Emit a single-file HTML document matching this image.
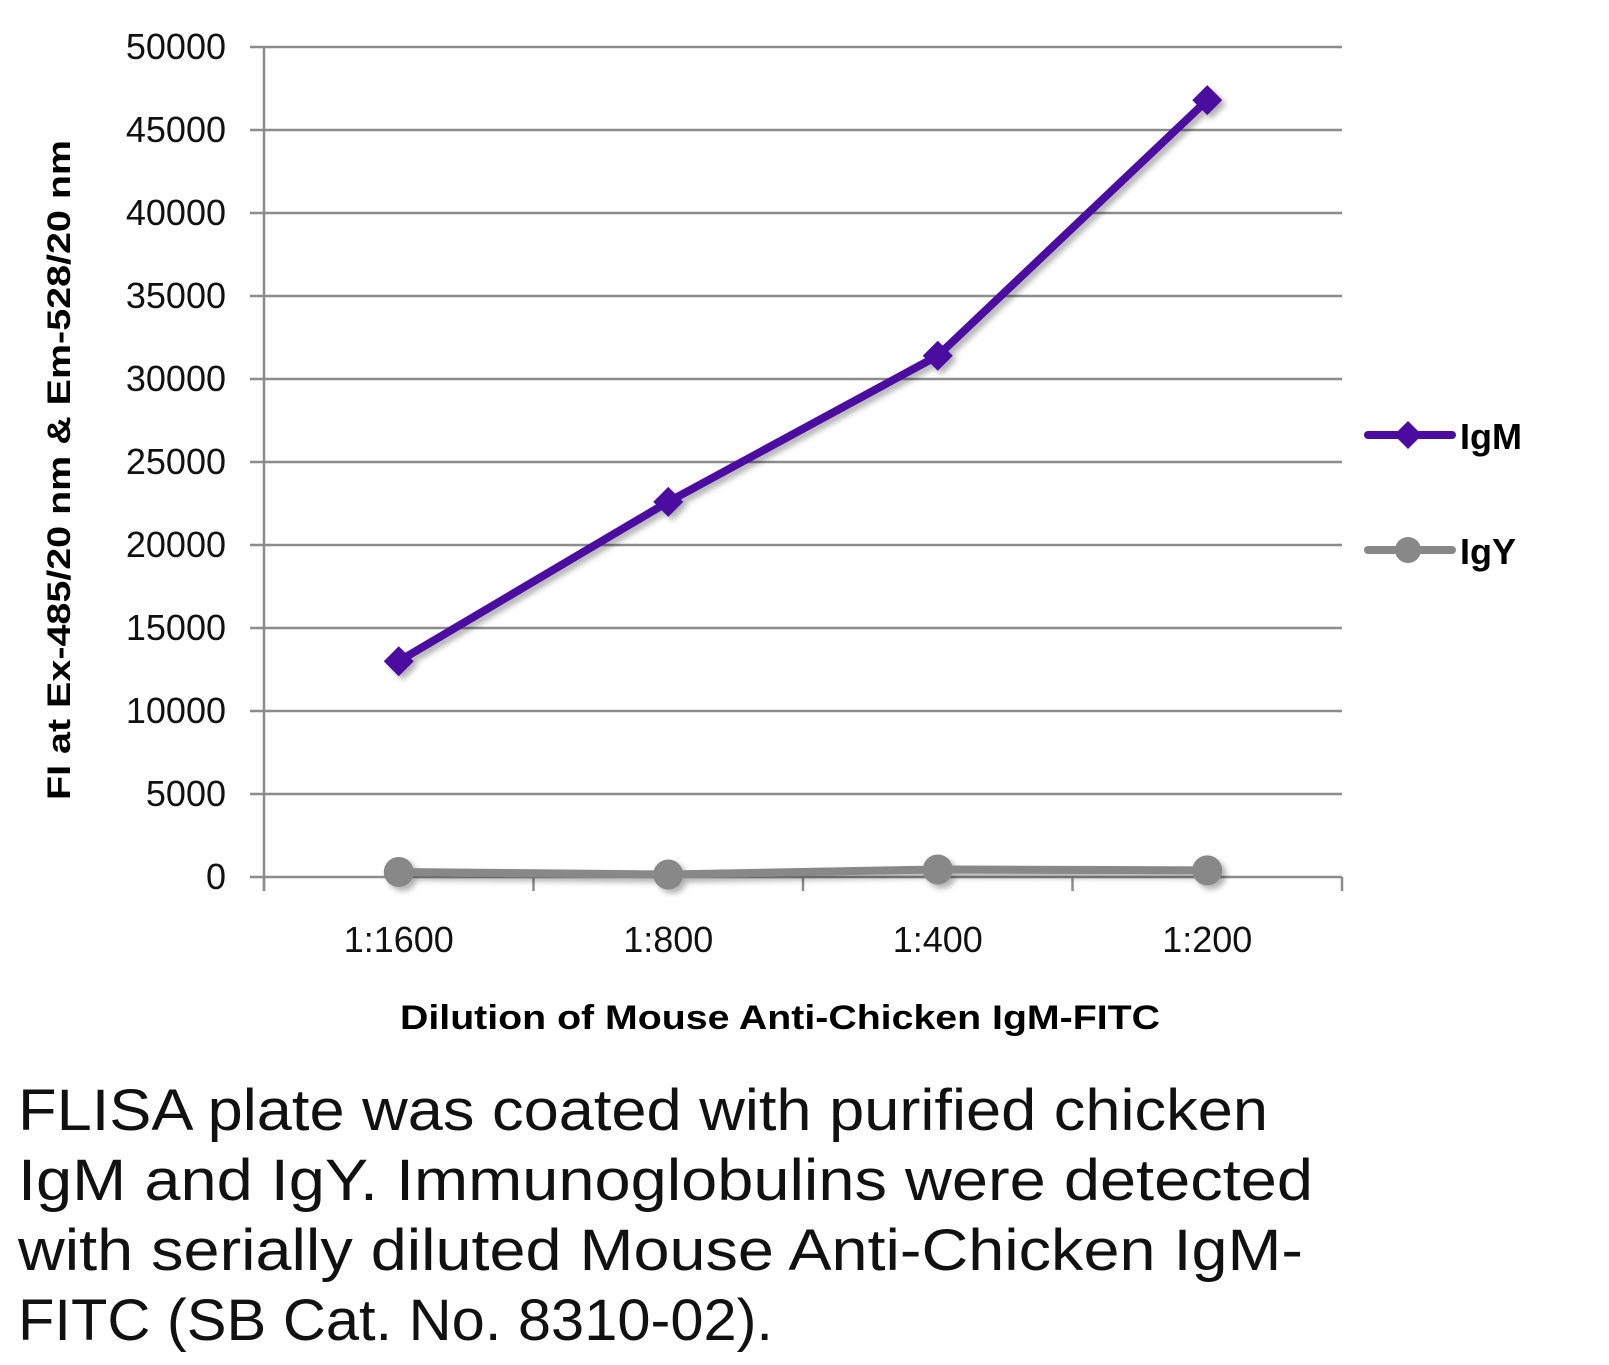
<!DOCTYPE html>
<html><head><meta charset="utf-8"><style>body{margin:0;background:#fff}svg{display:block}</style></head><body>
<svg id="chart" width="1609" height="1365" xmlns="http://www.w3.org/2000/svg" font-family="'Liberation Sans', sans-serif">
<defs><filter id="sh" x="-20%" y="-20%" width="140%" height="140%"><feDropShadow dx="4" dy="4" stdDeviation="3" flood-color="#000" flood-opacity="0.3"/></filter></defs>
<g id="grid"></g>
<g id="axes"></g>
<g id="series"></g>
<text transform="translate(70,470) rotate(-90)" text-anchor="middle" font-weight="bold" font-size="32" textLength="660" lengthAdjust="spacingAndGlyphs">FI at Ex-485/20 nm &amp; Em-528/20 nm</text>
<text x="400" y="1029" font-weight="bold" font-size="34" textLength="760" lengthAdjust="spacingAndGlyphs">Dilution of Mouse Anti-Chicken IgM-FITC</text>
<g>
<g>
<line x1="1368" y1="435" x2="1452" y2="435" stroke="#4b0aa0" stroke-width="8" stroke-linecap="round"/>
<polygon points="1408,421 1422,435 1408,449 1394,435" fill="#4b0aa0"/>
<text x="1460" y="449" font-weight="bold" font-size="36">IgM</text></g>
<g>
<line x1="1368" y1="550" x2="1452" y2="550" stroke="#888" stroke-width="8" stroke-linecap="round"/>
<circle cx="1408" cy="550" r="13" fill="#888"/>
<text x="1460" y="564" font-weight="bold" font-size="36">IgY</text></g>
</g>
<g font-size="58" fill="#111">
<text x="18" y="1130" textLength="1250" lengthAdjust="spacingAndGlyphs">FLISA plate was coated with purified chicken</text>
<text x="18" y="1200" textLength="1295" lengthAdjust="spacingAndGlyphs">IgM and IgY.  Immunoglobulins were detected</text>
<text x="18" y="1270" textLength="1285" lengthAdjust="spacingAndGlyphs">with serially diluted Mouse Anti-Chicken IgM-</text>
<text x="18" y="1340" textLength="755" lengthAdjust="spacingAndGlyphs">FITC (SB Cat. No. 8310-02).</text>
</g>
</svg>
<script>
const categories = ["1:1600","1:800","1:400","1:200"];
const igmValues = [13000, 22600, 31400, 46800];
const igyValues = [300, 150, 450, 400];
const yTicks = [0,5000,10000,15000,20000,25000,30000,35000,40000,45000,50000];
const NS="http://www.w3.org/2000/svg";
const L=264,R=1342,T=47,B=877,YMAX=50000;
const y=v=>B-(v/YMAX)*(B-T);
const bw=(R-L)/categories.length;
const x=i=>L+bw*(i+0.5);
function mk(tag,attrs,parent){const e=document.createElementNS(NS,tag);for(const k in attrs)e.setAttribute(k,attrs[k]);parent.appendChild(e);return e;}
const grid=document.getElementById('grid'),axes=document.getElementById('axes'),ser=document.getElementById('series');
yTicks.forEach(t=>{
 if(t>0){const g=mk('line',{x1:L,x2:R,y1:y(t),y2:y(t),stroke:'#8c8c8c','stroke-width':2.5},grid);
 
 }
 const tk=mk('line',{x1:L-14,x2:L,y1:y(t),y2:y(t),stroke:'#8c8c8c','stroke-width':2.5},axes);
 
 
 const lb=mk('text',{x:L-38,y:y(t)+12,'text-anchor':'end','font-size':36,fill:'#111'},axes);lb.textContent=t;
 
 
});
const ya=mk('line',{x1:L,x2:L,y1:T,y2:B+14,stroke:'#8c8c8c','stroke-width':2.5},axes);


const xa=mk('line',{x1:L,x2:R,y1:B,y2:B,stroke:'#8c8c8c','stroke-width':2.5},axes);


for(let i=0;i<=categories.length;i++){const t=mk('line',{x1:L+bw*i,x2:L+bw*i,y1:B,y2:B+14,stroke:'#8c8c8c','stroke-width':2.5},axes);
 
 }
categories.forEach((c,i)=>{const t=mk('text',{x:x(i),y:952,'text-anchor':'middle','font-size':36,fill:'#111'},axes);t.textContent=c;
 
 });
function series(vals,color,name,marker){
 const g=mk('g',{filter:'url(#sh)'},ser);
 
 
 const pl=mk('polyline',{points:vals.map((v,i)=>x(i)+','+y(v)).join(' '),fill:'none',stroke:color,'stroke-width':8,'stroke-linejoin':'round'},g);
 
 
 vals.forEach((v,i)=>{let m;
  if(marker==='diamond'){const cx=x(i),cy=y(v);m=mk('polygon',{points:`${cx},${cy-15} ${cx+15},${cy} ${cx},${cy+15} ${cx-15},${cy}`,fill:color},g);}
  else m=mk('circle',{cx:x(i),cy:y(v),r:15,fill:color},g);
  
  });
}
series(igyValues,'#888','igy','circle');
series(igmValues,'#4b0aa0','igm','diamond');
</script>
</body></html>
